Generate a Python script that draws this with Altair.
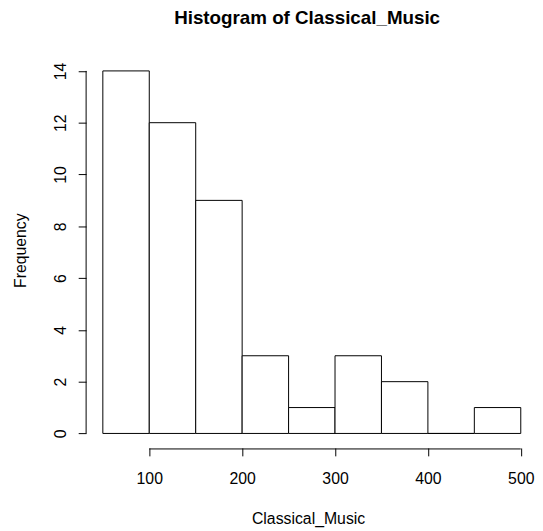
import altair as alt
import pandas as pd

# Histogram bins (Classical_Music) and counts
bin_start = [50, 100, 150, 200, 250, 300, 350, 400, 450]
bin_end = [100, 150, 200, 250, 300, 350, 400, 450, 500]
counts = [14, 12, 9, 3, 1, 3, 2, 0, 1]

x_ticks = [100, 200, 300, 400, 500]
y_ticks = [0, 2, 4, 6, 8, 10, 12, 14]

FONT = "Liberation Sans"
W, H = 449, 396

bars_df = pd.DataFrame({"start": bin_start, "end": bin_end, "count": counts})
xaxis_df = pd.DataFrame({"x0": [min(x_ticks)], "x1": [max(x_ticks)]})
yaxis_df = pd.DataFrame({"y0": [min(y_ticks)], "y1": [max(y_ticks)]})

xscale = alt.Scale(domain=[32, 510], nice=False, zero=False, padding=0)
yscale = alt.Scale(domain=[-0.56, 14.56], nice=False, zero=False, padding=0)

bars = alt.Chart(bars_df).mark_rect(
    fill="white", stroke="black", strokeWidth=1
).encode(
    x=alt.X("start:Q", scale=xscale, axis=alt.Axis(
        values=x_ticks, domain=False, grid=False, tickSize=8, tickColor="black",
        tickWidth=1, labelFont=FONT, labelFontSize=16, labelColor="black",
        labelBaseline="alphabetic", labelPadding=28, labelFlush=False,
        labelOverlap=False, labelAlign="center", format="d",
        title="Classical_Music", titleFont=FONT, titleFontSize=16,
        titleFontWeight="normal", titleColor="black", titleBaseline="alphabetic",
        titleAlign="center", titleX=224.5, titleY=76, titleAnchor="start")),
    x2="end:Q",
    y=alt.Y("count:Q", scale=yscale, axis=alt.Axis(
        values=y_ticks, domain=False, grid=False, tickSize=8, tickColor="black",
        tickWidth=1, labelFont=FONT, labelFontSize=16, labelColor="black",
        labelAngle=270, labelAlign="center", labelBaseline="alphabetic",
        labelPadding=13, labelFlush=False, labelOverlap=False, format="d",
        title="Frequency", titleFont=FONT, titleFontSize=16,
        titleFontWeight="normal", titleColor="black", titleAngle=270,
        titleBaseline="alphabetic", titleAlign="center", titleX=-61, titleY=196,
        titleAnchor="start")),
    y2=alt.datum(0),
)

xaxis_line = alt.Chart(xaxis_df).mark_rule(color="black", strokeWidth=1).encode(
    x=alt.X("x0:Q", scale=xscale), x2="x1:Q", y=alt.value(H + 1)
)
yaxis_line = alt.Chart(yaxis_df).mark_rule(color="black", strokeWidth=1).encode(
    y=alt.Y("y0:Q", scale=yscale), y2="y1:Q", x=alt.value(0)
)

chart = alt.layer(bars, xaxis_line, yaxis_line).properties(
    width=W,
    height=H,
    background="white",
    autosize=alt.AutoSizeParams(type="none"),
    padding={"left": 79, "top": 46, "right": 5, "bottom": 78},
    title=alt.TitleParams(
        "Histogram of Classical_Music", font=FONT, fontSize=19, fontWeight="bold",
        color="black", anchor="middle", frame="group", baseline="alphabetic",
        offset=14, dx=-1),
).configure_view(strokeWidth=0, stroke="transparent")

chart.save("out.html", embed_options={"renderer": "svg", "actions": False})
